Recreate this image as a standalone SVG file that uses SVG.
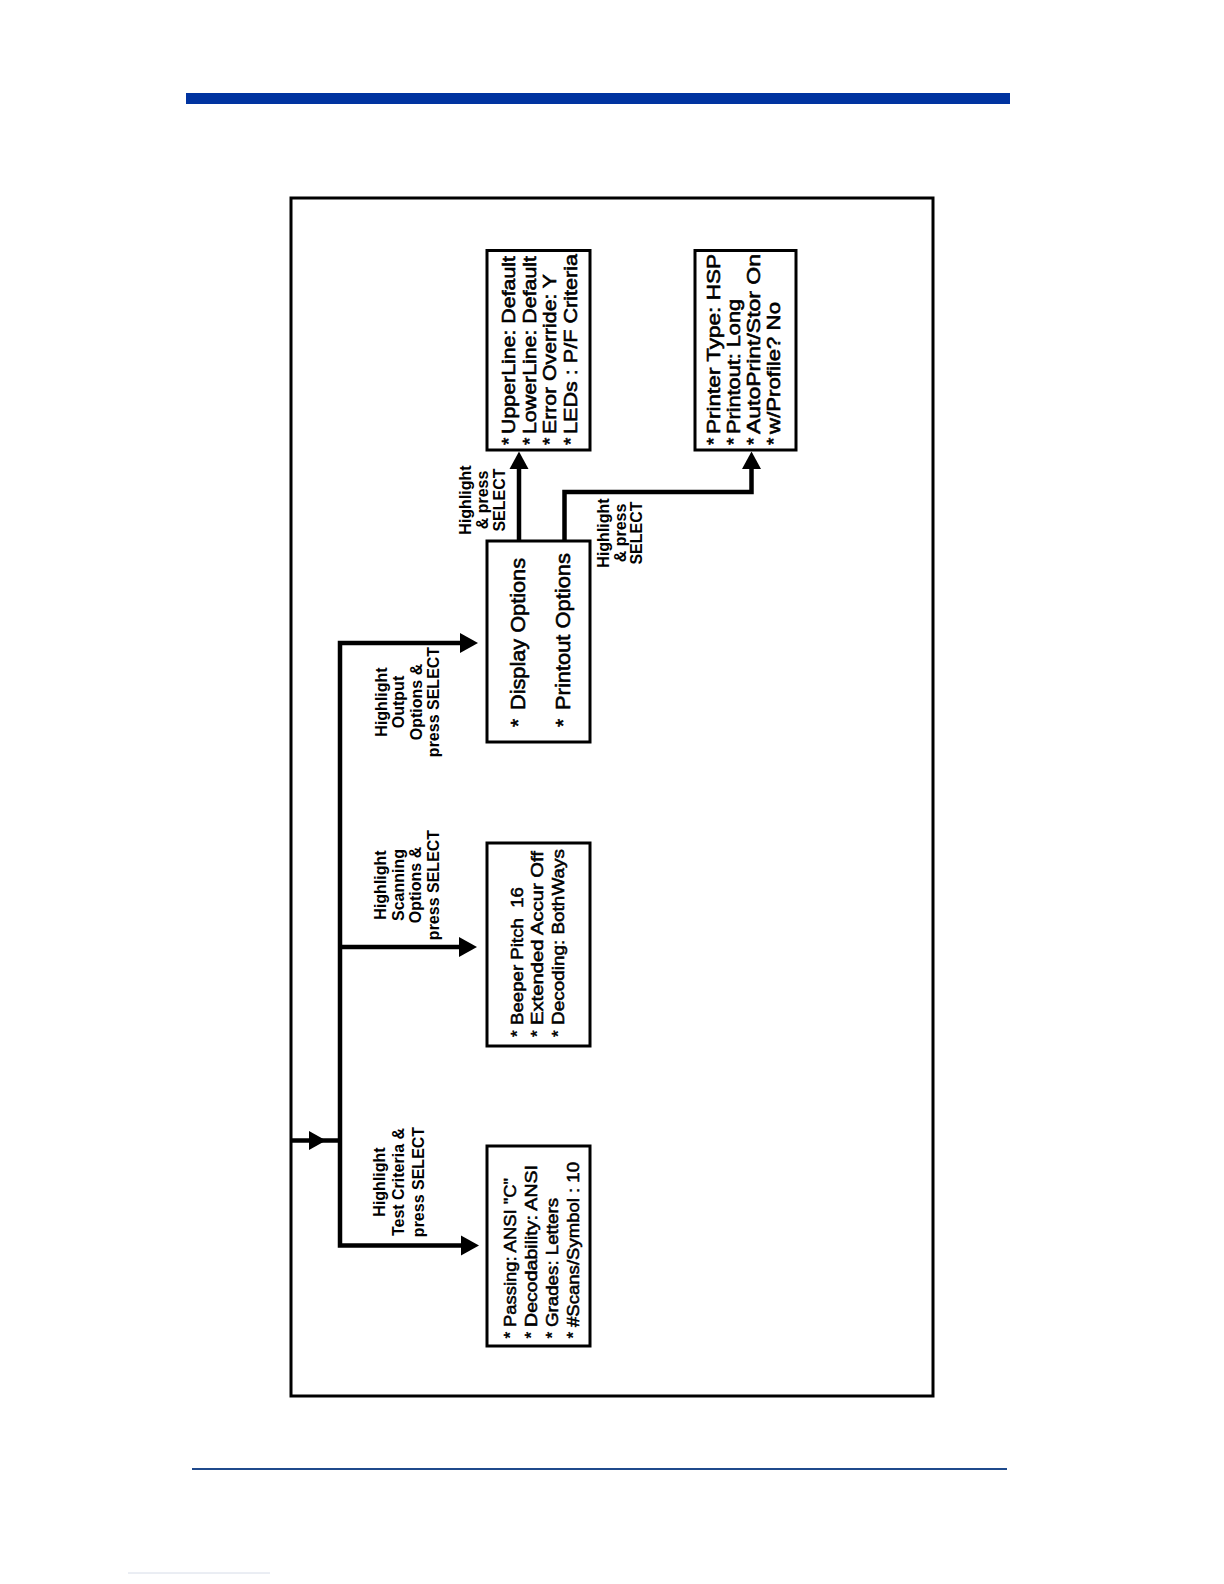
<svg xmlns="http://www.w3.org/2000/svg" width="1224" height="1584" viewBox="0 0 1224 1584">
<style>
.box{fill:#fff;stroke:#000;stroke-width:3}
.wire{fill:none;stroke:#000;stroke-width:4.5;stroke-linejoin:miter;stroke-linecap:butt}
.head{fill:#000}
.t{font-family:"Liberation Sans",Arial,Helvetica,sans-serif;fill:#000}
.bt{font-size:17px;stroke:#000;stroke-width:0.55}
.lt{font-size:19px;stroke:#000;stroke-width:0.6}
.dt{font-size:21px;stroke:#000;stroke-width:0.6}
.lab{font-size:16px;font-weight:bold;text-anchor:middle}
</style>
<rect width="1224" height="1584" fill="#fff"/>
<g id="page">
<rect x="186" y="93" width="824" height="11" fill="#0033a0"/>
<line x1="192" y1="1469" x2="1007" y2="1469" stroke="#1f4a8c" stroke-width="2"/>
<line x1="128" y1="1573" x2="270" y2="1573" stroke="#d6dce8" stroke-width="1"/>
<rect x="291" y="198" width="642" height="1198" fill="none" stroke="#000" stroke-width="3"/>
</g>
<g id="connectors">
<path class="wire" d="M291 1140.5 H340"/>
<polygon class="head" points="309,1131 326,1140.5 309,1150"/>
<path class="wire" d="M462 643 H340 V1245.5 H463"/>
<path class="wire" d="M340 947 H460"/>
<polygon class="head" points="460,633 478,643 460,653"/>
<polygon class="head" points="459,937 477,947 459,957"/>
<polygon class="head" points="461,1235.5 479,1245.5 461,1255.5"/>
<path class="wire" d="M519 541 V467"/>
<polygon class="head" points="509.5,469 519,451.5 528.5,469"/>
<path class="wire" d="M564.5 541 V492 H751.5 V467"/>
<polygon class="head" points="742,469 751.5,451.5 761,469"/>
</g>
<g id="labels" class="t lab" transform="rotate(-90)">
<text x="-1182" y="384.5">Highlight</text>
<text x="-1182" y="404">Test Criteria &amp;</text>
<text x="-1182" y="424">press SELECT</text>
<text x="-885" y="386">Highlight</text>
<text x="-885" y="403.5">Scanning</text>
<text x="-885" y="421">Options &amp;</text>
<text x="-885" y="438.5">press SELECT</text>
<text x="-702" y="386.5">Highlight</text>
<text x="-702" y="404">Output</text>
<text x="-702" y="421.5">Options &amp;</text>
<text x="-702" y="439">press SELECT</text>
<text x="-500" y="470.5">Highlight</text>
<text x="-500" y="487.5">&amp; press</text>
<text x="-500" y="504.5">SELECT</text>
<text x="-533" y="608.5">Highlight</text>
<text x="-533" y="625.5">&amp; press</text>
<text x="-533" y="642">SELECT</text>
</g>
<g id="node-test-criteria">
<rect class="box" x="487" y="1146" width="103" height="200"/>
<g class="t bt" transform="rotate(-90)">
<text x="-1338.5" y="516">*</text>
<text x="-1338.5" y="537">*</text>
<text x="-1338.5" y="558">*</text>
<text x="-1338.5" y="579">*</text>
<text x="-1327" y="516" textLength="149" lengthAdjust="spacingAndGlyphs">Passing: ANSI "C"</text>
<text x="-1327" y="537" textLength="162" lengthAdjust="spacingAndGlyphs">Decodability: ANSI</text>
<text x="-1327" y="558" textLength="129" lengthAdjust="spacingAndGlyphs">Grades: Letters</text>
<text x="-1327" y="579" textLength="165" lengthAdjust="spacingAndGlyphs">#Scans/Symbol : 10</text>
</g>
</g>
<g id="node-scanning">
<rect class="box" x="487" y="843" width="103" height="203"/>
<g class="t bt" transform="rotate(-90)">
<text x="-1037" y="523">*</text>
<text x="-1037" y="543">*</text>
<text x="-1037" y="564">*</text>
<text x="-1025" y="523" textLength="138" lengthAdjust="spacingAndGlyphs">Beeper Pitch&#160; 16</text>
<text x="-1025" y="543" textLength="174" lengthAdjust="spacingAndGlyphs">Extended Accur Off</text>
<text x="-1025" y="564" textLength="176" lengthAdjust="spacingAndGlyphs">Decoding: BothWays</text>
</g>
</g>
<g id="node-output">
<rect class="box" x="487" y="541" width="103" height="201"/>
<g class="t dt" transform="rotate(-90)">
<text x="-727" y="525">*</text>
<text x="-727" y="570">*</text>
<text x="-710" y="525" textLength="152" lengthAdjust="spacingAndGlyphs">Display Options</text>
<text x="-710" y="570" textLength="157" lengthAdjust="spacingAndGlyphs">Printout Options</text>
</g>
</g>
<g id="node-display">
<rect class="box" x="487" y="250.5" width="103" height="199.5"/>
<g class="t lt" transform="rotate(-90)">
<text x="-445" y="515">*</text>
<text x="-445" y="535.5">*</text>
<text x="-445" y="556">*</text>
<text x="-445" y="577">*</text>
<text x="-434" y="515" textLength="178" lengthAdjust="spacingAndGlyphs">UpperLine: Default</text>
<text x="-434" y="535.5" textLength="178" lengthAdjust="spacingAndGlyphs">LowerLine: Default</text>
<text x="-434" y="556" textLength="160" lengthAdjust="spacingAndGlyphs">Error Override: Y</text>
<text x="-434" y="577" textLength="180" lengthAdjust="spacingAndGlyphs">LEDs : P/F Criteria</text>
</g>
</g>
<g id="node-printout">
<rect class="box" x="695" y="250.5" width="101" height="199.5"/>
<g class="t lt" transform="rotate(-90)">
<text x="-445" y="720">*</text>
<text x="-445" y="740">*</text>
<text x="-445" y="760">*</text>
<text x="-445" y="780">*</text>
<text x="-434" y="720" textLength="180" lengthAdjust="spacingAndGlyphs">Printer Type: HSP</text>
<text x="-434" y="740" textLength="135" lengthAdjust="spacingAndGlyphs">Printout: Long</text>
<text x="-434" y="760" textLength="180" lengthAdjust="spacingAndGlyphs">AutoPrint/Stor On</text>
<text x="-434" y="780" textLength="132" lengthAdjust="spacingAndGlyphs">w/Profile? No</text>
</g>
</g>
</svg>
